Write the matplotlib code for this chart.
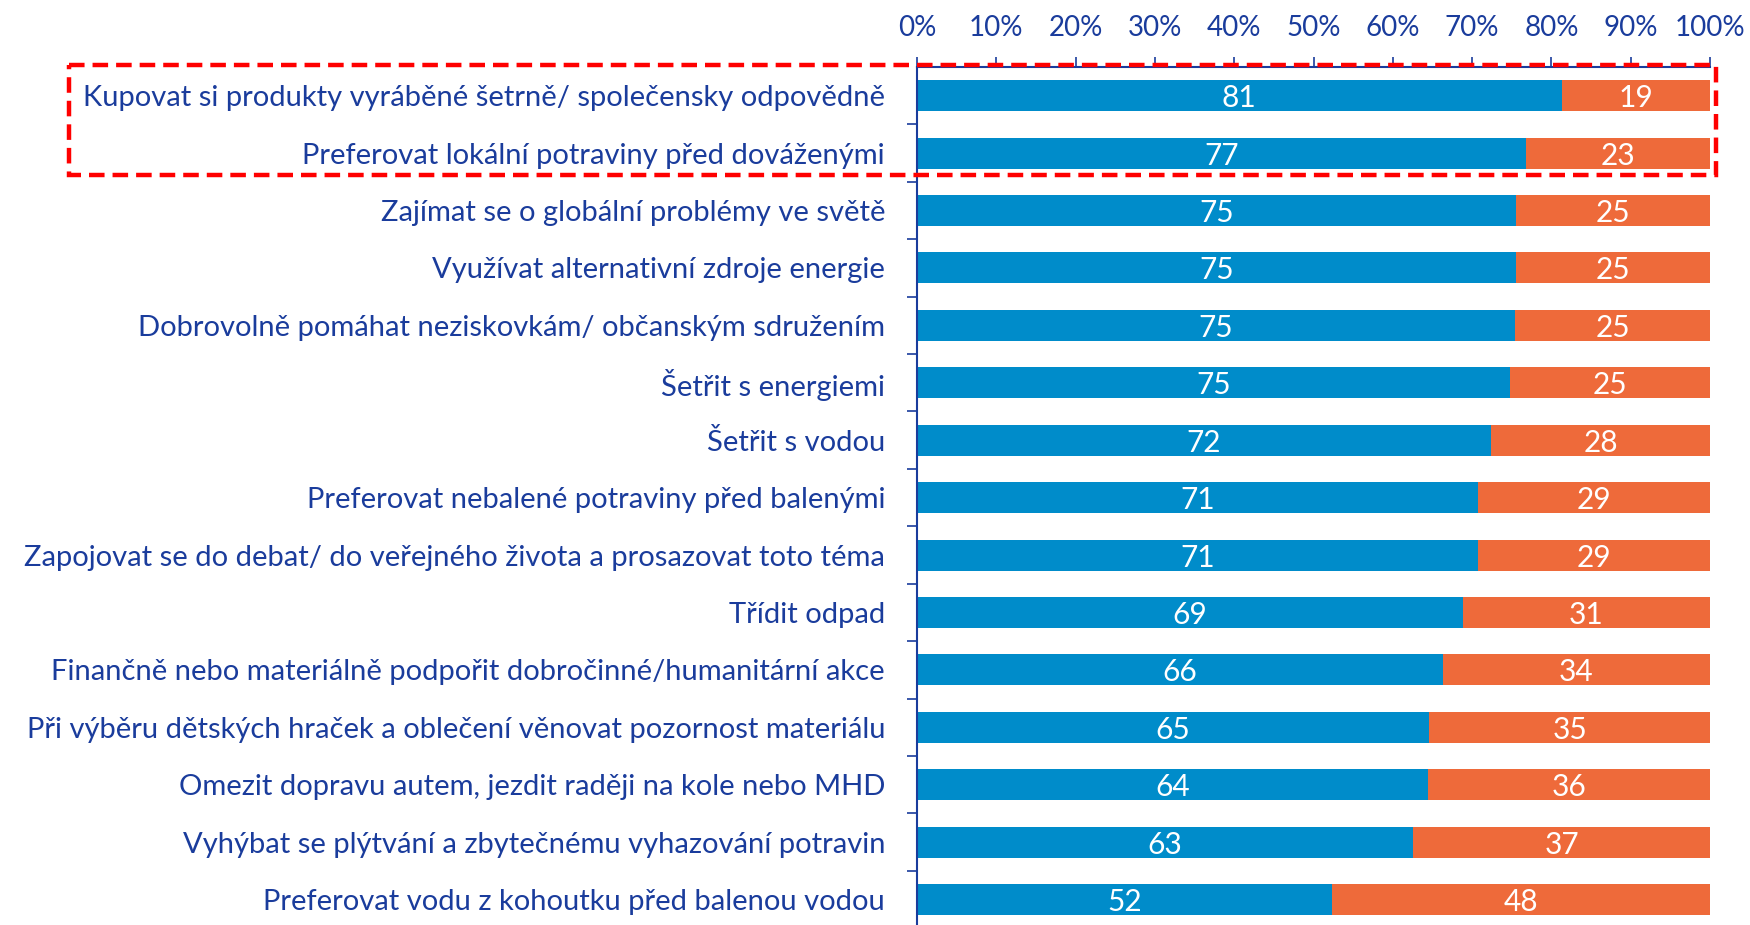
import numpy as np
import matplotlib
matplotlib.use('Agg')
from matplotlib import pyplot as plt
from matplotlib.patches import Rectangle
from matplotlib import transforms

plt.rcParams['font.family'] = ['Lato', 'DejaVu Sans']

items = [
    'Kupovat si produkty vyráběné šetrně/ společensky odpovědně',
    'Preferovat lokální potraviny před dováženými',
    'Zajímat se o globální problémy ve světě',
    'Využívat alternativní zdroje energie',
    'Dobrovolně pomáhat neziskovkám/ občanským sdružením',
    'Šetřit s energiemi',
    'Šetřit s vodou',
    'Preferovat nebalené potraviny před balenými',
    'Zapojovat se do debat/ do veřejného života a prosazovat toto téma',
    'Třídit odpad',
    'Finančně nebo materiálně podpořit dobročinné/humanitární akce',
    'Při výběru dětských hraček a oblečení věnovat pozornost materiálu',
    'Omezit dopravu autem, jezdit raději na kole nebo MHD',
    'Vyhýbat se plýtvání a zbytečnému vyhazování potravin',
    'Preferovat vodu z kohoutku před balenou vodou',
]
# blue share (bar length) and printed labels
blue = [81.3, 76.8, 75.5, 75.5, 75.4, 74.8, 72.4, 70.8, 70.8, 68.8, 66.3, 64.6, 64.4, 62.6, 52.3]
blue_lbl = [81, 77, 75, 75, 75, 75, 72, 71, 71, 69, 66, 65, 64, 63, 52]
orange_lbl = [19, 23, 25, 25, 25, 25, 28, 29, 29, 31, 34, 35, 36, 37, 48]

c_blue = '#008CCA'
c_orange = '#EE6A3A'
c_text = '#1A3C9C'

blue = np.array(blue)
orange = 100 - blue
y = np.arange(len(items))

fig = plt.figure(figsize=(17.5, 9.25), dpi=100)
ax = fig.add_axes([917 / 1750, -0.0035, 793 / 1750, 0.9276 + 0.0035])

ax.barh(y, blue, height=0.54, color=c_blue)
ax.barh(y, orange, left=blue, height=0.54, color=c_orange)
for i in y:
    ax.text(blue[i] / 2, i, str(blue_lbl[i]), color='white', fontsize=21.5,
            ha='center', va='center_baseline')
    ax.text(blue[i] + orange[i] / 2, i, str(orange_lbl[i]), color='white',
            fontsize=21.5, ha='center', va='center_baseline')

ax.set_xlim(0, 100)
ax.set_ylim(len(items) - 0.5, -0.5)
ax.xaxis.tick_top()
ax.set_xticks(np.arange(0, 101, 10))
ax.set_xticklabels(['%d%%' % v for v in range(0, 101, 10)])
ax.tick_params(axis='x', colors=c_text, labelsize=20, length=7, width=1.2, pad=12)
ax.set_yticks(y)
ax.set_yticklabels(items)
ax.tick_params(axis='y', which='major', length=0, pad=23, labelsize=21,
               labelcolor=c_text)
ax.set_yticks(np.arange(0.5, len(items) - 0.5, 1), minor=True)
ax.tick_params(axis='y', which='minor', length=7, width=1.2, color=c_text)

for s in ['right', 'bottom']:
    ax.spines[s].set_visible(False)
for s in ['top', 'left']:
    ax.spines[s].set_color(c_text)
    ax.spines[s].set_linewidth(1.5)

# red dashed frame round the first two rows
tr = transforms.blended_transform_factory(ax.transAxes, ax.transData)
ax.add_patch(Rectangle((-1.069, -0.54), 2.077, 1.93, transform=tr,
                       fill=False, edgecolor='#FF0000', linewidth=3.2,
                       linestyle=(0, (3.5, 1.8)), clip_on=False, zorder=5))

fig.savefig('out.png', dpi=100)
